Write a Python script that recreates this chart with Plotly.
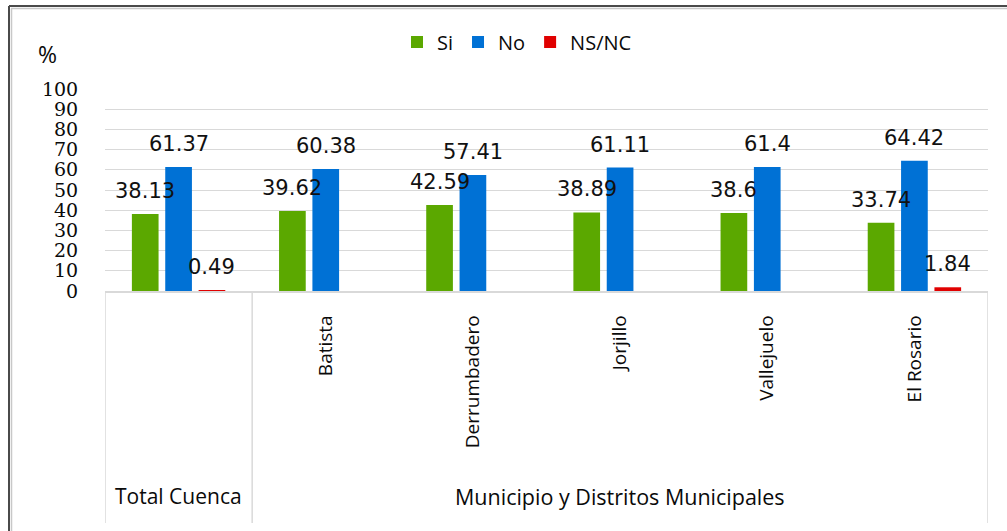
import plotly.graph_objects as go

# Survey results by territory (percent of respondents)
categories = ["Total Cuenca", "Batista", "Derrumbadero", "Jorjillo", "Vallejuelo", "El Rosario"]
tick_labels = ["", "Batista", "Derrumbadero", "Jorjillo", "Vallejuelo", "El Rosario"]
si_values = [38.13, 39.62, 42.59, 38.89, 38.6, 33.74]
no_values = [61.37, 60.38, 57.41, 61.11, 61.4, 64.42]
nsnc_values = [0.49, None, None, None, None, 1.84]
series_names = ["Si", "No", "NS/NC"]
series_colors = ["#5BA800", "#0071D5", "#E00000"]
group_labels = ["Total Cuenca", "Municipio y Distritos Municipales"]
y_ticks = [0, 10, 20, 30, 40, 50, 60, 70, 80, 90, 100]

# Canvas and plot-area geometry (pixels)
W, H = 1007, 531
ML, MR, MT, MB = 105, 19, 89, 240
PW, PH = W - ML - MR, H - MT - MB
BARGAP, BARGROUPGAP = 0.32, 0.2


def px_x(px):
    return (px - ML) / PW


def px_y(py):
    return (H - MB - py) / PH


fig = go.Figure()
all_values = [si_values, no_values, nsnc_values]
for name, vals, color in zip(series_names, all_values, series_colors):
    fig.add_trace(go.Bar(
        name=name, x=categories, y=vals,
        marker=dict(color=color, line=dict(width=0)),
        hoverinfo="x+y+name",
    ))

# Value labels floating above each bar
slot_px = PW / len(categories) * (1 - BARGAP) / len(series_names)
annotations = []
for i, vals in enumerate(all_values):
    shift = (i - 1) * slot_px
    for cat, v in zip(categories, vals):
        if v is None:
            continue
        annotations.append(dict(
            x=cat, y=v, xref="x", yref="y", text=f"{v:g}", showarrow=False,
            xshift=shift, yshift=23, yanchor="middle", xanchor="center",
            font=dict(family="DejaVu Sans", size=21, color="#111111"),
        ))

# Outer category labels
annotations.append(dict(
    x=0, y=px_y(496), xref="x", yref="paper", text=group_labels[0],
    showarrow=False, yanchor="middle",
    font=dict(family="Open Sans", size=21, color="#0a0a0a"),
))
annotations.append(dict(
    x=3, y=px_y(496), xref="x", yref="paper", text=group_labels[1],
    showarrow=False, yanchor="middle",
    font=dict(family="Open Sans", size=21.5, color="#0a0a0a"),
))
# Unit label
annotations.append(dict(
    x=px_x(47), y=px_y(54), xref="paper", yref="paper", text="%",
    showarrow=False, xanchor="center", yanchor="middle",
    font=dict(family="Open Sans", size=23, color="#0a0a0a"),
))

shapes = []
# Category dividers running down through the label area
for xv in [-0.5, 0.5, 5.5]:
    shapes.append(dict(
        type="line", xref="x", yref="paper", x0=xv, x1=xv,
        y0=0, y1=px_y(523), line=dict(color="#d9d9d9", width=1.5),
    ))
# Chart frame (top and left edges)
shapes.append(dict(type="line", xref="paper", yref="paper",
                   x0=px_x(9), x1=px_x(W + 5), y0=px_y(6), y1=px_y(6),
                   line=dict(color="#4a4a4a", width=2)))
shapes.append(dict(type="line", xref="paper", yref="paper",
                   x0=px_x(9), x1=px_x(9), y0=px_y(6), y1=px_y(H + 5),
                   line=dict(color="#4a4a4a", width=2)))
shapes.append(dict(type="line", xref="paper", yref="paper",
                   x0=px_x(11), x1=px_x(W + 5), y0=px_y(8.5), y1=px_y(8.5),
                   line=dict(color="#c8c8c8", width=1.5)))
shapes.append(dict(type="line", xref="paper", yref="paper",
                   x0=px_x(11.5), x1=px_x(11.5), y0=px_y(8.5), y1=px_y(H + 5),
                   line=dict(color="#c8c8c8", width=1.5)))

fig.update_layout(
    width=W, height=H,
    margin=dict(l=ML, r=MR, t=MT, b=MB, pad=0),
    paper_bgcolor="white", plot_bgcolor="white",
    barmode="group", bargap=BARGAP, bargroupgap=BARGROUPGAP,
    annotations=annotations, shapes=shapes,
    legend=dict(
        orientation="h", x=px_x(517), y=px_y(42),
        xanchor="center", yanchor="middle",
        font=dict(family="Open Sans", size=20, color="#0a0a0a"),
        itemclick=False, itemdoubleclick=False,
    ),
    xaxis=dict(
        type="category", tickmode="array", tickvals=categories, ticktext=tick_labels,
        tickangle=-90, ticks="outside", ticklen=15, tickcolor="rgba(0,0,0,0)",
        showline=True, linecolor="#d9d9d9", linewidth=1.5, showgrid=False,
        layer="above traces",
        tickfont=dict(family="Open Sans", size=19, color="#0a0a0a"),
        range=[-0.5, 5.5], fixedrange=True,
    ),
    yaxis=dict(
        range=[0, 100], tickmode="array", tickvals=y_ticks,
        ticks="outside", ticklen=22, tickcolor="rgba(0,0,0,0)",
        showgrid=True, gridcolor="#d9d9d9", gridwidth=1.4,
        zeroline=False, showline=False,
        tickfont=dict(family="DejaVu Serif", size=19, color="#0a0a0a"),
        fixedrange=True,
    ),
)

fig.write_html("out.html")
